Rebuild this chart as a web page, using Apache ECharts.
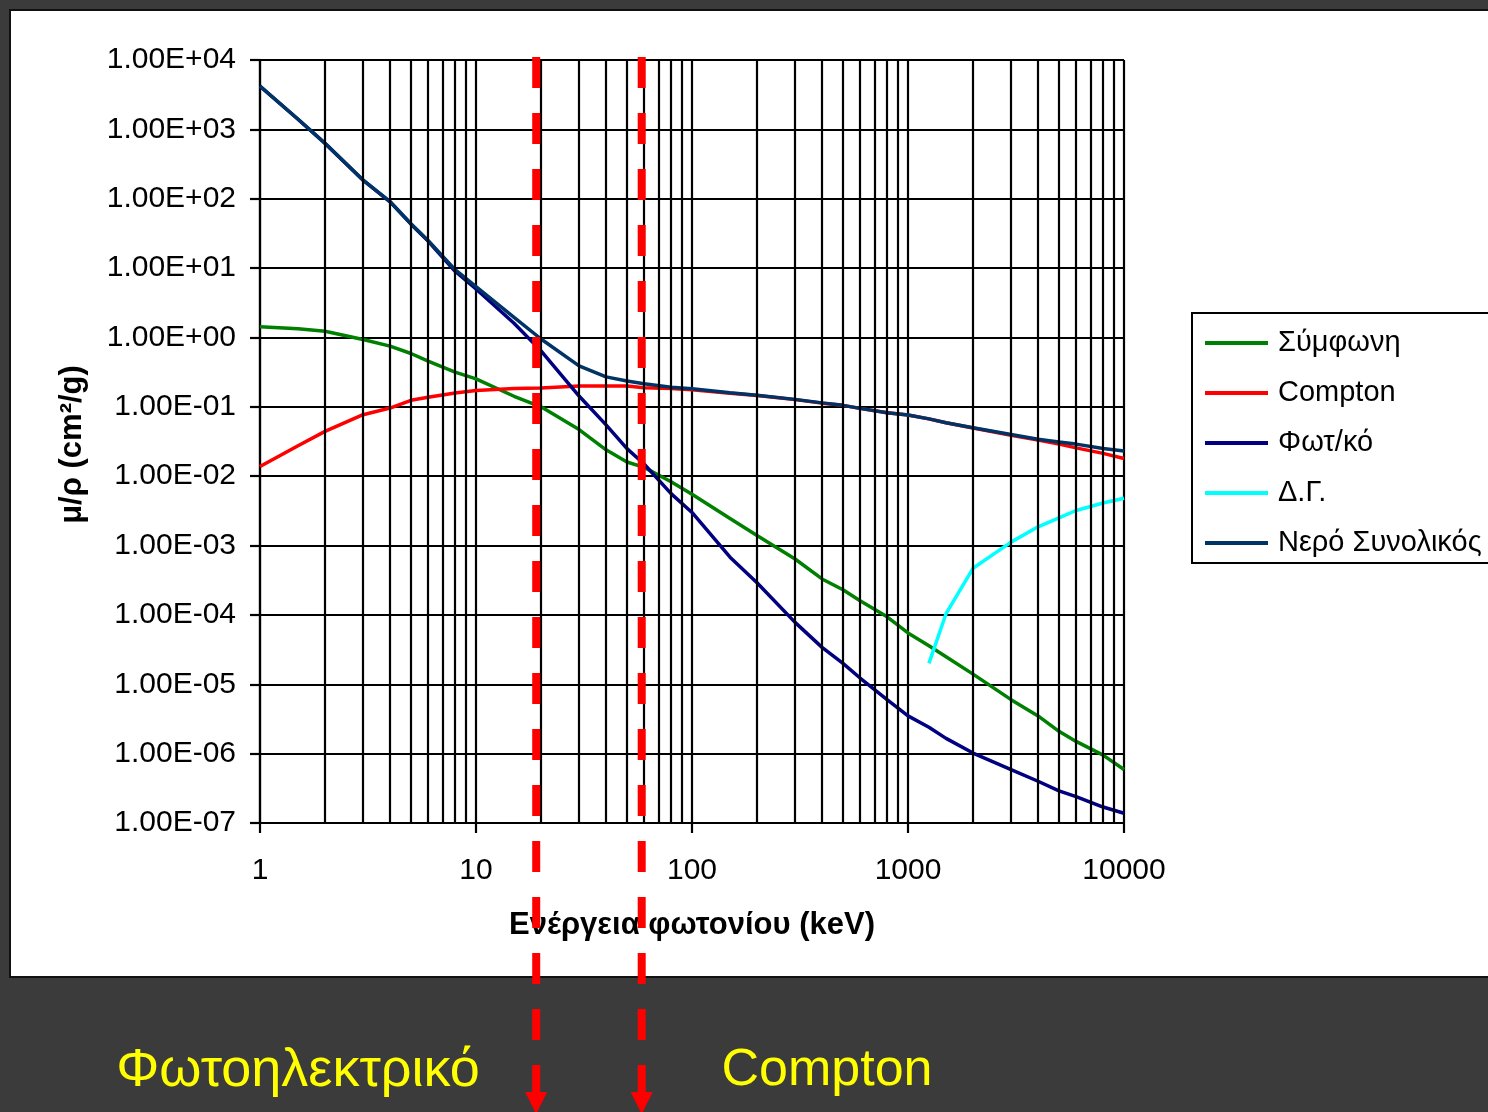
<!DOCTYPE html>
<html><head><meta charset="utf-8">
<script src="https://cdn.jsdelivr.net/npm/echarts@6/dist/echarts.min.js"></script>
<style>html,body{margin:0;padding:0;background:#3b3b3b;} #c{width:1488px;height:1112px;}</style>
</head><body><div id="c"></div>
<script>
// Photon energy (keV)
const energies = [1, 1.5, 2, 3, 4, 5, 6, 8, 10, 15, 20, 30, 40, 50, 60, 80, 100, 150, 200, 300, 400, 500, 600, 800, 1000, 1250, 1500, 2000, 3000, 4000, 5000, 6000, 8000, 10000];
// Mass attenuation coefficients (cm2/g)
const coherent = [1.43, 1.33, 1.23, 0.935, 0.75, 0.587, 0.455, 0.316, 0.253, 0.142, 0.1, 0.047, 0.024, 0.016, 0.0134, 0.0083, 0.0055, 0.00245, 0.0014, 6.4e-4, 3.3e-4, 2.3e-4, 1.6e-4, 9.4e-5, 5.5e-5, 3.6e-5, 2.5e-5, 1.4e-5, 6.0e-6, 3.5e-6, 2.1e-6, 1.5e-6, 9.5e-7, 5.9e-7];
const compton = [0.0138, 0.0275, 0.0443, 0.077, 0.096, 0.124, 0.137, 0.158, 0.172, 0.183, 0.187, 0.2, 0.2, 0.2, 0.188, 0.184, 0.176, 0.157, 0.146, 0.127, 0.113, 0.105, 0.095, 0.082, 0.076, 0.067, 0.059, 0.0495, 0.039, 0.0332, 0.029, 0.0256, 0.0213, 0.018];
const photoelectric = [4180, 1400, 628, 185, 90, 43, 24.5, 9.0, 5.0, 1.6, 0.64, 0.143, 0.055, 0.025, 0.015, 0.0056, 0.003, 6.8e-4, 2.9e-4, 7.8e-5, 3.4e-5, 2.0e-5, 1.23e-5, 6.0e-6, 3.5e-6, 2.4e-6, 1.66e-6, 1.02e-6, 5.9e-7, 4.0e-7, 2.9e-7, 2.4e-7, 1.7e-7, 1.38e-7];
const pairProduction = [null, null, null, null, null, null, null, null, null, null, null, null, null, null, null, null, null, null, null, null, null, null, null, null, null, 2.0e-5, 1.04e-4, 4.7e-4, 1.12e-3, 1.86e-3, 2.5e-3, 3.2e-3, 4.1e-3, 4.8e-3];
const waterTotal = [4200, 1400, 630, 186, 91, 43.5, 25, 9.5, 5.4, 1.95, 0.95, 0.39, 0.27, 0.235, 0.215, 0.192, 0.182, 0.16, 0.147, 0.128, 0.114, 0.105, 0.095, 0.082, 0.076, 0.067, 0.059, 0.05, 0.040, 0.034, 0.031, 0.029, 0.025, 0.023];

const seriesNames = ['Σύμφωνη', 'Compton', 'Φωτ/κό', 'Δ.Γ.', 'Νερό Συνολικός'];
const xTickLabels = ['1', '10', '100', '1000', '10000'];
const yTickLabels = ['1.00E-07', '1.00E-06', '1.00E-05', '1.00E-04', '1.00E-03', '1.00E-02', '1.00E-01', '1.00E+00', '1.00E+01', '1.00E+02', '1.00E+03', '1.00E+04'];
const minorXGrid = [2,3,4,5,6,7,8,9, 20,30,40,50,60,70,80,90, 200,300,400,500,600,700,800,900, 2000,3000,4000,5000,6000,7000,8000,9000];
const regionBoundaries = [19, 58.5];
const regionLabels = ['Φωτοηλεκτρικό', 'Compton'];
const xAxisTitle = 'Ενέργεια φωτονίου (keV)';
const yAxisTitle = 'μ/ρ (cm²/g)';

const colors = ['#008000', '#FF0000', '#000080', '#00FFFF', '#003366'];
const valueSets = [coherent, compton, photoelectric, pairProduction, waterTotal];

const FONT = '"Liberation Sans", Arial, sans-serif';
const chart = echarts.init(document.getElementById('c'), null, {renderer: 'canvas'});

const curveSeries = seriesNames.map((name, i) => ({
  name: name,
  type: 'line',
  z: 3,
  showSymbol: false,
  symbol: 'none',
  connectNulls: false,
  data: energies.map((e, k) => [e, valueSets[i][k]]).filter(p => p[1] !== null),
  lineStyle: {color: colors[i], width: 3.5},
  itemStyle: {color: colors[i]}
}));

const gridHelper = {
  name: '_minorgrid',
  type: 'line',
  z: 1,
  silent: true,
  showSymbol: false,
  data: [[1, 1e-7], [1, 1e-7]],
  lineStyle: {opacity: 0},
  markLine: {
    silent: true,
    symbol: ['none', 'none'],
    animation: false,
    label: {show: false},
    lineStyle: {color: '#000', width: 2.2, type: 'solid'},
    emphasis: {disabled: true},
    data: minorXGrid.map(v => ({xAxis: v}))
  }
};

chart.setOption({
  backgroundColor: '#3b3b3b',
  animation: false,
  grid: {left: 260, top: 60, width: 864, height: 763, containLabel: false},
  xAxis: {
    type: 'log', logBase: 10, min: 1, max: 10000, interval: 1,
    name: xAxisTitle, nameLocation: 'middle', nameGap: 87,
    nameTextStyle: {fontFamily: FONT, fontSize: 31, fontWeight: 'bold', color: '#000'},
    axisLine: {show: true, lineStyle: {color: '#000', width: 2.2}},
    axisTick: {show: true, length: 10, lineStyle: {color: '#000', width: 2.2}},
    axisLabel: {margin: 33, fontFamily: FONT, fontSize: 30, color: '#000',
      formatter: v => xTickLabels[Math.round(Math.log10(v))]},
    splitLine: {show: true, lineStyle: {color: '#000', width: 2.2}},
    minorTick: {show: false}
  },
  yAxis: {
    type: 'log', logBase: 10, min: 1e-7, max: 1e4, interval: 1,
    name: yAxisTitle, nameLocation: 'middle', nameGap: 172, nameRotate: 90,
    nameTextStyle: {fontFamily: FONT, fontSize: 31, fontWeight: 'bold', color: '#000', padding: [0, 6, 0, 0]},
    axisLine: {show: true, lineStyle: {color: '#000', width: 2.2}},
    axisTick: {show: true, length: 10, lineStyle: {color: '#000', width: 2.2}},
    axisLabel: {margin: 24, fontFamily: FONT, fontSize: 30, color: '#000', padding: [5, 0, 0, 0],
      formatter: v => yTickLabels[Math.round(Math.log10(v)) + 7]},
    splitLine: {show: true, lineStyle: {color: '#000', width: 2.2}}
  },
  legend: {
    data: seriesNames.map(n => ({name: n, icon: 'rect'})),
    orient: 'vertical', left: 1192, top: 313,
    backgroundColor: '#fff', borderColor: '#000', borderWidth: 2,
    padding: [15, 13, 5, 13], itemGap: 20, itemWidth: 63, itemHeight: 4,
    selectedMode: false,
    textStyle: {fontFamily: FONT, fontSize: 29, color: '#000', lineHeight: 30, padding: [0, 0, 0, 5]}
  },
  series: [gridHelper].concat(curveSeries)
});

// Annotations: white panel, red dashed boundaries with arrows, yellow region labels
const graphics = [{
  type: 'rect', z: -100, silent: true,
  shape: {x: 10, y: 10, width: 1490, height: 967},
  style: {fill: '#ffffff', stroke: '#111', lineWidth: 2}
}];
regionBoundaries.forEach(e => {
  const px = chart.convertToPixel({xAxisIndex: 0}, e);
  graphics.push({
    type: 'line', z: 100, silent: true,
    shape: {x1: px, y1: 57, x2: px, y2: 1094},
    style: {stroke: '#FF0000', lineWidth: 8, lineDash: [31, 25]}
  });
  graphics.push({
    type: 'polygon', z: 100, silent: true,
    shape: {points: [[px - 11, 1092], [px + 11, 1092], [px, 1114]]},
    style: {fill: '#FF0000'}
  });
});
const labelX = [298, 827];
regionLabels.forEach((t, i) => {
  graphics.push({
    type: 'text', z: 100, silent: true,
    x: labelX[i], y: 1071,
    style: {text: t, fill: '#FFFF00', font: (i === 0 ? 54 : 52) + 'px ' + FONT, textAlign: 'center', textVerticalAlign: 'middle'}
  });
});
chart.setOption({graphic: graphics});
</script>
</body></html>
